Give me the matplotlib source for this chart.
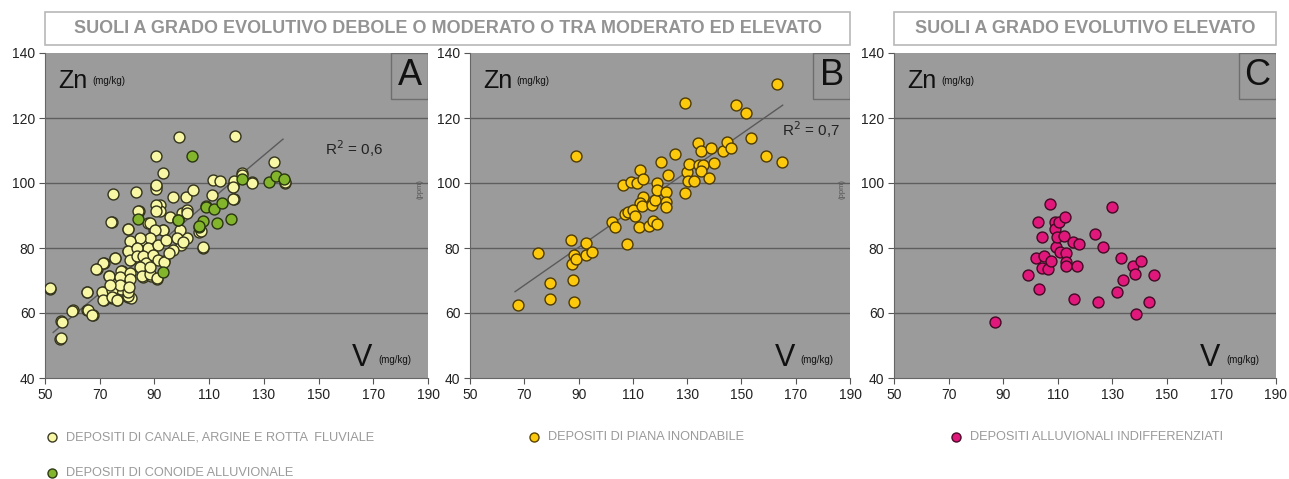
import matplotlib
matplotlib.use("Agg")
import matplotlib.pyplot as plt
from matplotlib.patches import Rectangle
from matplotlib import font_manager
import numpy as np

# ---- data ----
canale_x = [51.8, 56.0, 55.6, 60.1, 65.5, 65.5, 67.5, 69.0, 71.4, 71.3, 71.4, 74.7, 74.4, 73.5,
            74.4, 75.6, 75.9, 76.4, 78.0, 77.7, 80.3, 80.4, 80.4, 81.4, 81.3, 83.1, 84.4, 80.3,
            83.6, 86.0, 85.8, 87.7, 88.1, 88.6, 90.0, 90.7, 90.6, 92.1, 92.0, 90.9, 93.2, 93.4,
            96.9, 99.8, 100.1, 101.7, 104.2, 101.9, 101.8, 107.7, 106.4, 111.1, 119.2, 118.9,
            125.8, 137.9, 99.0, 119.4, 90.6, 93.0, 90.6, 133.8, 125.6, 119.0, 111.3, 114.0,
            122.0, 118.7, 118.8, 137.7, 90.6, 84.1, 74.1, 80.2, 88.4, 95.7, 101.8, 107.2, 107.6,
            99.4, 93.2, 90.2, 88.4, 84.7, 81.1, 87.8, 91.4, 94.2, 98.2, 100.4, 96.9, 80.2,
            83.5, 81.1, 83.5, 85.9, 87.1, 89.5, 91.4, 93.5, 95.5, 75.6, 71.3, 68.6, 73.5,
            77.8, 77.3, 81.1, 81.1, 84.7, 85.4, 88.4, 91.1, 88.4, 65.2, 70.7, 71.3, 74.4,
            74.4, 76.2, 80.2, 80.2, 77.3, 73.7, 80.8, 51.8, 60.0, 65.6, 67.3, 56.3, 55.7,
            109.0, 90.6, 121.9]
canale_y = [67.4, 57.4, 52.1, 60.9, 66.4, 60.9, 59.4, 73.4, 75.5, 66.5, 64.0, 96.6, 88.0, 71.5,
            64.5, 76.8, 68.8, 64.0, 72.9, 67.5, 79.1, 69.0, 64.9, 64.6, 82.0, 97.1, 91.5, 85.8,
            77.7, 82.5, 71.0, 87.6, 79.3, 71.5, 85.4, 99.2, 98.3, 93.1, 91.5, 70.4, 85.4, 76.0,
            95.8, 81.0, 90.9, 95.8, 98.0, 91.6, 83.0, 80.1, 85.0, 96.3, 95.1, 99.0,
            100.3, 100.0, 114.1, 114.6, 108.2, 103.0, 99.4, 106.6, 100.0, 100.6, 101.0, 100.6,
            103.0, 98.9, 95.0, 100.2, 93.2, 91.5, 88.1, 86.0, 87.6, 89.6, 90.9, 85.2, 80.2,
            85.5, 85.5, 85.5, 83.0, 83.0, 82.3, 79.9, 81.0, 82.5, 83.2, 82.0, 79.4, 79.1,
            80.0, 76.3, 77.5, 77.5, 75.5, 78.0, 76.3, 75.8, 78.4, 76.8, 75.3, 73.5, 71.4,
            73.0, 71.1, 72.4, 70.4, 74.3, 71.4, 72.0, 70.8, 74.3, 66.4, 66.4, 64.0, 67.1,
            64.8, 64.0, 65.2, 66.5, 68.6, 68.6, 68.1, 67.8, 60.7, 60.8, 59.4, 57.3, 52.2,
            93.0, 91.5, 102.5]

conoide_x = [84.0, 93.0, 98.6, 98.7, 103.8, 106.3, 107.9, 108.7, 111.8, 112.7, 114.6, 118.0,
             122.1, 131.9, 134.3, 137.5, 106.4]
conoide_y = [88.9, 72.7, 88.6, 88.6, 108.4, 86.4, 88.4, 92.6, 92.1, 87.6, 93.8, 88.8,
             101.1, 100.3, 102.1, 101.1, 86.9]

piana_x = [67.8, 75.2, 79.5, 79.3, 87.2, 88.4, 87.5, 88.0, 88.3, 89.0, 89.1, 92.6, 92.9, 95.0,
           102.2, 103.4, 107.7, 106.5, 109.2, 111.4, 112.6, 113.6, 113.6, 112.6, 112.4, 107.1,
           108.3, 110.2, 110.8, 113.5, 116.1, 117.5, 118.8, 116.9, 118.2, 118.8, 118.8, 120.4,
           122.1, 122.1, 122.1, 123.1, 125.5, 129.2, 129.2, 129.8, 130.4, 130.8, 132.7, 133.9,
           134.5, 135.1, 135.9, 135.0, 138.2, 138.7, 139.9, 143.1, 144.6, 146.1, 148.0, 151.6,
           153.5, 159.1, 163.0, 164.8]
piana_y = [62.5, 78.6, 69.1, 64.2, 82.5, 77.8, 75.0, 70.2, 63.3, 108.3, 76.5, 81.4, 77.8, 78.9,
           88.0, 86.6, 81.2, 99.4, 100.4, 99.9, 104.0, 101.2, 95.8, 93.7, 86.6, 90.5,
           91.2, 91.8, 89.7, 92.8, 86.8, 88.4, 87.4, 93.3, 94.7, 99.9, 98.0, 106.6,
           97.3, 94.2, 92.7, 102.5, 108.9, 124.5, 96.8, 103.3, 100.7, 105.7, 100.7, 112.2,
           105.5, 109.8, 105.5, 103.8, 101.4, 110.9, 106.2, 109.8, 112.7, 110.9, 124.0, 121.6,
           114.0, 108.3, 130.4, 106.4]

indiff_x = [87.0, 99.0, 101.9, 103.1, 102.9, 104.1, 104.3, 104.9, 106.3, 107.4, 107.2, 109.0,
            109.0, 109.4, 109.6, 110.6, 110.8, 112.3, 112.7, 112.9, 112.9, 112.9, 115.7, 117.8,
            116.9, 116.1, 123.5, 126.6, 124.9, 130.0, 133.3, 133.9, 131.8, 137.7, 138.5, 140.7,
            138.6, 145.3, 143.6]
indiff_y = [57.3, 71.7, 77.0, 67.4, 87.9, 73.9, 83.5, 77.5, 73.6, 76.1, 93.5, 88.1,
            86.0, 80.4, 83.5, 88.1, 78.9, 83.8, 89.6, 78.5, 75.7, 74.6, 82.0, 81.3,
            74.5, 64.3, 84.3, 80.2, 63.5, 92.5, 76.8, 70.2, 66.6, 74.6, 72.0, 76.0,
            59.6, 71.6, 63.5]

# trend lines (slope, intercept, x range) and R2 labels
trend_a = (0.708, 16.5, 53, 137)
trend_b = (0.582, 27.8, 66.6, 165.2)
r2_a = "R$^2$ = 0,6"
r2_b = "R$^2$ = 0,7"

xticks = [50, 70, 90, 110, 130, 150, 170, 190]
yticks = [40, 60, 80, 100, 120, 140]

title_left = "SUOLI A GRADO EVOLUTIVO DEBOLE O MODERATO O TRA MODERATO ED ELEVATO"
title_right = "SUOLI A GRADO EVOLUTIVO ELEVATO"
legend_labels = ["DEPOSITI DI CANALE, ARGINE E ROTTA  FLUVIALE", "DEPOSITI DI PIANA INONDABILE",
                 "DEPOSITI ALLUVIONALI INDIFFERENZIATI", "DEPOSITI DI CONOIDE ALLUVIONALE"]

# ---- style ----
W, H = 1289, 479
BG = "#9b9b9b"
c_canale = "#f7f7a6"
c_conoide = "#82b52c"
c_piana = "#fcc90d"
c_indiff = "#e0187c"

avail = {f.name for f in font_manager.fontManager.ttflist}
narrow = "Liberation Sans Narrow" if "Liberation Sans Narrow" in avail else "Liberation Sans"
plt.rcParams["font.family"] = ["Liberation Sans", "DejaVu Sans"]

fig = plt.figure(figsize=(W / 100, H / 100), dpi=100)
fig.patch.set_facecolor("white")


def px_axes(x0, x1, y0=53, y1=378):
    return fig.add_axes([x0 / W, 1 - y1 / H, (x1 - x0) / W, (y1 - y0) / H])


def setup(ax, letter, ppm=True):
    ax.set_facecolor(BG)
    ax.set_xlim(50, 190)
    ax.set_ylim(40, 140)
    ax.set_xticks(xticks)
    ax.set_yticks(yticks)
    ax.tick_params(labelsize=10, length=4, color="#555555", labelcolor="#222222", pad=3)
    for s in ["top", "right"]:
        ax.spines[s].set_visible(False)
    for s in ["left", "bottom"]:
        ax.spines[s].set_color("#666666")
    for v in yticks[1:-1]:
        ax.axhline(v, color="#5e5e5e", lw=1.0, zorder=1)
    ax.add_patch(Rectangle((0.903, 0.858), 0.097, 0.142, transform=ax.transAxes,
                           facecolor=BG, edgecolor="#6e6e6e", lw=1, zorder=2))
    ax.text(0.952, 0.93, letter, transform=ax.transAxes, ha="center", va="center",
            fontsize=26, color="#111111", zorder=3)
    ax.text(0.034, 0.915, "Zn", transform=ax.transAxes, ha="left", va="center",
            fontsize=18, color="#111111")
    ax.text(0.123, 0.915, "(mg/kg)", transform=ax.transAxes, ha="left", va="center",
            fontsize=7, color="#111111")
    ax.text(0.855, 0.06, "V", transform=ax.transAxes, ha="right", va="center",
            fontsize=22, color="#111111")
    ax.text(0.87, 0.055, "(mg/kg)", transform=ax.transAxes, ha="left", va="center",
            fontsize=7, color="#111111")
    if ppm:
        ax.text(0.978, 0.58, "(ppm)", transform=ax.transAxes, ha="center", va="center",
                rotation=90, fontsize=5.5, color="#555555")


def trend(ax, t):
    m, q, xa, xb = t
    xs = np.array([xa, xb])
    ax.plot(xs, m * xs + q, color="#5a5a5a", lw=1.0, zorder=2)


mk = dict(s=62, linewidths=1.0, zorder=4)

axA = px_axes(45, 428)
setup(axA, "A")
trend(axA, trend_a)
axA.scatter(canale_x, canale_y, c=c_canale, edgecolors="#33331c", **mk)
axA.scatter(conoide_x, conoide_y, c=c_conoide, edgecolors="#2a3510", **mk)
axA.text(0.731, 0.705, r2_a, transform=axA.transAxes, fontsize=11, color="#222222",
         va="center")

axB = px_axes(470, 850)
setup(axB, "B")
trend(axB, trend_b)
axB.scatter(piana_x, piana_y, c=c_piana, edgecolors="#4f3b00", **mk)
axB.text(0.821, 0.763, r2_b, transform=axB.transAxes, fontsize=11, color="#222222",
         va="center")

axC = px_axes(894, 1276)
setup(axC, "C", ppm=False)
axC.scatter(indiff_x, indiff_y, c=c_indiff, edgecolors="#420a24", **mk)

# title boxes
for (x0, x1, txt) in [(45, 850, title_left), (894, 1276, title_right)]:
    fig.add_artist(Rectangle((x0 / W, 1 - 45 / H), (x1 - x0) / W, 33 / H,
                             transform=fig.transFigure, facecolor="white",
                             edgecolor="#b8b8b8", lw=1.2))
    fig.text((x0 + x1) / 2 / W, 1 - 28.5 / H, txt, ha="center", va="center",
             fontsize=13, fontweight="bold", color="#939393")

# legend
leg = [(52, 437, c_canale, "#3b3b22", legend_labels[0]),
       (534, 437, c_piana, "#5a4300", legend_labels[1]),
       (956, 437, c_indiff, "#4a0a28", legend_labels[2]),
       (52, 473, c_conoide, "#2f3b12", legend_labels[3])]
for (x, y, fc, ec, lab) in leg:
    fig.add_artist(plt.Line2D([x / W], [1 - y / H], marker="o", markersize=6.5,
                              markerfacecolor=fc, markeredgecolor=ec, lw=0,
                              transform=fig.transFigure))
    fig.text((x + 14) / W, 1 - y / H, lab, ha="left", va="center",
             fontsize=9.2, color="#9a9a9a", family=[narrow, "DejaVu Sans"])

fig.savefig("out.png", dpi=100)
